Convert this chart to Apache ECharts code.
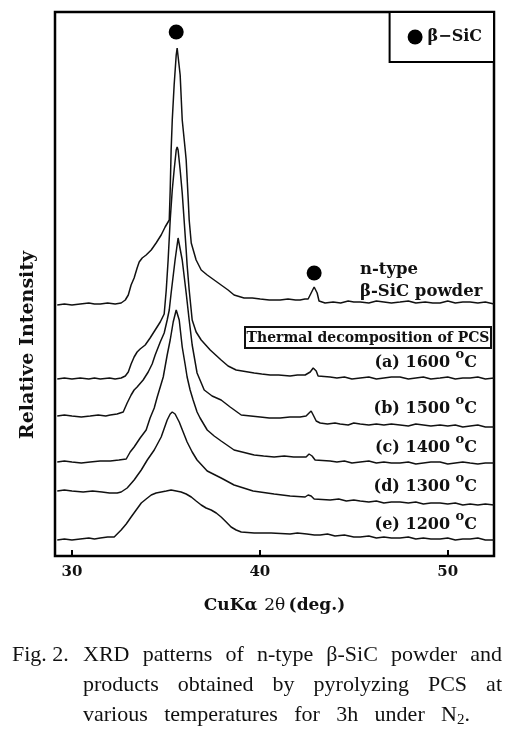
<!DOCTYPE html>
<html>
<head>
<meta charset="utf-8">
<script src="https://cdn.jsdelivr.net/npm/echarts@6/dist/echarts.min.js"></script>
<style>
html,body{margin:0;padding:0;background:#fff;}
#chart{width:526px;height:733px;}
</style>
</head>
<body>
<div id="chart"></div>
<script>
// ---- data (2θ in degrees, intensity in arbitrary units, curves offset as in the figure) ----
const tickValues = [30, 40, 50];
const markerName = 'β−SiC';
const markerPoints = [[35.55, 524], [42.89, 283]];
const seriesNames = ['n-type β-SiC powder', '(a) 1600 °C', '(b) 1500 °C', '(c) 1400 °C', '(d) 1300 °C', '(e) 1200 °C'];
const conditionLabels = ['(a) 1600 ', '(b) 1500 ', '(c) 1400 ', '(d) 1300 ', '(e) 1200 '];

const powder = [[29.22,251],[29.6,252],[30.0,251],[30.44,252],[30.9,253],[31.2,252],[31.51,252],[31.9,253],[32.3,252],[32.62,253],
 [32.84,256],[33.00,261],[33.15,271],[33.31,278],[33.47,288],[33.58,294],[33.74,298],[33.95,301],[34.22,306],[34.48,313],
 [34.75,321],[34.96,329],[35.18,336],[35.23,366],[35.28,406],[35.34,436],[35.44,471],[35.55,501],[35.60,508],[35.65,506],
 [35.76,481],[35.87,436],[36.03,406],[36.08,396],[36.19,356],[36.24,336],[36.35,313],[36.61,296],[36.88,286],[37.20,281],
 [37.57,276],[37.94,271],[38.31,266],[38.63,261],[39.16,258],[39.6,258],[40.02,257],[40.5,256],[41.08,256],[41.5,257],
 [41.9,256],[42.14,256],[42.4,257],[42.57,257],[42.73,263],[42.89,269],[43.05,263],[43.15,255],[43.47,253],[43.9,254],
 [44.3,253],[44.7,255],[45.0,254],[45.34,254],[45.8,253],[46.2,255],[46.6,254],[47.0,253],[47.46,254],[47.9,255],
 [48.3,253],[48.8,254],[49.2,253],[49.59,253],[50.0,255],[50.4,253],[50.8,254],[51.19,254],[51.6,253],[52.0,254],[52.46,252]];

const pcs1600 = [[29.22,177],[29.6,178],[30.0,177],[30.44,178],[30.9,177],[31.2,178],[31.51,177],[32.0,178],[32.3,177],[32.62,178],
 [32.84,180],[33.00,184],[33.15,192],[33.31,199],[33.47,204],[33.63,207],[33.90,211],[34.16,218],[34.43,226],[34.70,234],
 [34.91,242],[35.02,266],[35.12,296],[35.23,336],[35.34,366],[35.44,386],[35.55,406],[35.60,409],[35.65,406],[35.76,386],
 [35.87,363],[35.97,336],[36.08,306],[36.13,291],[36.24,266],[36.40,236],[36.61,224],[36.88,216],[37.36,206],[37.94,196],
 [38.31,190],[38.74,186],[39.70,183],[40.1,182],[40.55,181],[41.0,181],[41.61,180],[42.0,181],[42.41,181],[42.68,184],
 [42.84,188],[42.89,189],[43.00,185],[43.10,180],[43.74,179],[44.1,178],[44.5,179],[44.9,177],[45.34,178],[45.8,179],
 [46.2,177],[46.6,178],[47.0,179],[47.46,179],[47.9,177],[48.3,178],[48.7,179],[49.1,177],[49.59,178],[50.0,179],
 [50.4,177],[50.8,178],[51.19,178],[51.6,179],[52.0,177],[52.46,178]];

const pcs1500 = [[29.22,140],[29.6,141],[30.0,140],[30.5,139],[30.97,140],[31.4,141],[31.8,140],[32.04,141],[32.4,142],[32.73,144],
 [32.94,153],[33.15,161],[33.31,166],[33.47,169],[33.79,176],[34.06,184],[34.27,192],[34.43,201],[34.70,214],[34.91,223],
 [35.07,236],[35.18,246],[35.28,263],[35.49,296],[35.65,318],[35.87,296],[36.08,263],[36.24,236],[36.40,211],[36.66,183],
 [37.04,166],[37.46,160],[37.94,156],[38.42,149],[39.01,141],[40.02,139],[40.5,138],[41.08,138],[41.6,139],[42.14,139],
 [42.46,140],[42.62,143],[42.73,145],[42.84,141],[43.00,135],[43.21,133],[43.6,132],[44.0,133],[44.27,132],[44.7,131],
 [45.0,133],[45.34,132],[45.8,131],[46.2,132],[46.6,131],[47.0,132],[47.46,131],[47.9,130],[48.3,132],[48.7,131],
 [49.1,130],[49.59,131],[50.0,130],[50.4,131],[50.8,129],[51.19,130],[51.6,131],[52.0,129],[52.46,129]];

const pcs1400 = [[29.22,94],[29.6,95],[30.0,94],[30.5,93],[30.97,94],[31.5,95],[32.04,95],[32.5,96],[32.89,97],
 [33.10,104],[33.31,109],[33.63,118],[33.95,126],[34.16,138],[34.38,148],[34.54,159],[34.86,179],[35.07,201],[35.23,216],
 [35.39,234],[35.55,246],[35.60,245],[35.71,236],[35.87,209],[36.03,191],[36.13,179],[36.29,166],[36.45,156],[36.66,144],
 [36.82,138],[37.20,126],[37.57,120],[37.94,115],[38.63,106],[39.70,101],[40.2,100],[40.76,99],[41.3,100],[41.8,99],
 [42.14,99],[42.46,99],[42.62,102],[42.68,103],[42.78,100],[42.94,96],[43.74,95],[44.1,94],[44.5,95],[44.9,93],
 [45.34,94],[45.8,95],[46.2,93],[46.6,94],[47.0,93],[47.46,93],[47.9,94],[48.3,92],[48.7,93],[49.1,94],[49.59,94],
 [50.0,92],[50.4,93],[50.8,94],[51.19,93],[51.6,92],[52.0,93],[52.46,93]];

const pcs1300 = [[29.22,65],[29.6,66],[30.0,65],[30.60,64],[31.1,65],[31.6,64],[32.0,63],[32.41,63],[32.62,64],
 [32.94,68],[33.31,76],[33.69,86],[34.01,96],[34.38,106],[34.75,119],[35.07,136],[35.23,142],[35.34,144],[35.49,142],
 [35.71,134],[35.92,124],[36.13,114],[36.40,104],[36.66,96],[37.20,85],[37.94,78],[38.63,71],[39.64,65],[40.76,62],
 [41.61,60],[42.41,59],[42.57,61],[42.62,62],[42.73,60],[42.89,57],[43.74,56],[44.2,57],[44.6,55],[45.0,56],[45.34,55],
 [45.8,54],[46.2,55],[46.6,53],[47.0,54],[47.46,54],[47.9,53],[48.3,54],[48.7,52],[49.1,53],[49.59,53],[50.0,52],
 [50.4,53],[50.8,51],[51.19,52],[51.6,51],[52.0,52],[52.46,51]];

const pcs1200 = [[29.22,16],[29.6,17],[30.0,16],[30.44,17],[30.9,18],[31.2,17],[31.51,18],[31.9,19],[32.25,19],
 [32.62,26],[32.89,32],[33.15,39],[33.42,46],[33.69,53],[33.95,57],[34.22,61],[34.48,63],[34.75,64],[35.02,65],
 [35.28,66],[35.55,65],[35.81,64],[36.08,62],[36.35,59],[36.61,55],[36.88,51],[37.14,48],[37.41,46],[37.68,43],
 [37.94,39],[38.21,34],[38.47,29],[38.74,26],[39.01,24],[39.70,23],[40.60,23],[41.61,22],[42.0,23],[42.5,22],
 [42.9,21],[43.21,21],[43.6,22],[44.0,20],[44.5,21],[45.0,19],[45.34,19],[45.8,20],[46.2,18],[46.6,19],[47.0,18],
 [47.46,18],[47.9,19],[48.3,17],[48.7,18],[49.1,17],[49.59,17],[50.0,18],[50.4,16],[50.8,17],[51.19,17],[51.6,18],
 [52.0,16],[52.46,16]];

const curves = [powder, pcs1600, pcs1500, pcs1400, pcs1300, pcs1200];

// ---- layout / style ----
const SERIF_B = '"DejaVu Serif", serif';
const CAP_FONT = '22px "Liberation Serif", "Times New Roman", serif';
const INK = '#111';

const chart = echarts.init(document.getElementById('chart'), null, {renderer: 'canvas'});

const mctx = document.createElement('canvas').getContext('2d');
function textW(font, s) { mctx.font = font; return mctx.measureText(s).width; }

function justifyLine(words, x0, x1, y) {
  const els = [];
  const widths = words.map(w => {
    if (w === 'N2.') return textW(CAP_FONT, 'N') + textW('15px "Liberation Serif"', '2') + textW(CAP_FONT, '.');
    return textW(CAP_FONT, w);
  });
  const total = widths.reduce((a, b) => a + b, 0);
  const gap = words.length > 1 ? (x1 - x0 - total) / (words.length - 1) : 0;
  let x = x0;
  words.forEach((w, i) => {
    if (w === 'N2.') {
      els.push({type: 'text', x: x, y: y, style: {
        text: '{n|N}{s|2}{n|.}', textAlign: 'left', textVerticalAlign: 'middle', fill: INK,
        rich: {
          n: {fontSize: 22, fontFamily: '"Liberation Serif", serif', lineHeight: 26, verticalAlign: 'middle', fill: INK},
          s: {fontSize: 15, fontFamily: '"Liberation Serif", serif', lineHeight: 15, verticalAlign: 'bottom', fill: INK}
        }
      }});
    } else {
      els.push({type: 'text', x: x, y: y, style: {text: w, font: CAP_FONT, fill: INK, textAlign: 'left', textVerticalAlign: 'middle'}});
    }
    x += widths[i] + gap;
  });
  return els;
}

const graphics = [];
// y-axis title
graphics.push({type: 'text', x: 28, y: 345, rotation: Math.PI / 2, style: {
  text: 'Relative Intensity', font: 'bold 19px ' + SERIF_B, fill: INK, textAlign: 'center', textVerticalAlign: 'middle'}});
// sample annotations
graphics.push({type: 'text', x: 360, y: 270, style: {text: 'n-type', font: 'bold 16.5px ' + SERIF_B, fill: INK, textAlign: 'left', textVerticalAlign: 'middle'}});
graphics.push({type: 'text', x: 360, y: 292, style: {text: 'β-SiC powder', font: 'bold 16.5px ' + SERIF_B, fill: INK, textAlign: 'left', textVerticalAlign: 'middle'}});
graphics.push({type: 'rect', shape: {x: 245, y: 327, width: 246, height: 21}, style: {fill: '#fff', stroke: INK, lineWidth: 2}});
graphics.push({type: 'text', x: 368, y: 338, style: {text: 'Thermal decomposition of PCS', font: 'bold 14px ' + SERIF_B, fill: INK, textAlign: 'center', textVerticalAlign: 'middle'}});
const labelY = [363, 409, 448, 487, 525];
conditionLabels.forEach((lab, i) => {
  graphics.push({type: 'text', x: 477, y: labelY[i], style: {
    text: '{t|' + lab + '}{s|o}{t|C}', textAlign: 'right', textVerticalAlign: 'middle', fill: INK,
    rich: {
      t: {fontSize: 16, fontWeight: 'bold', fontFamily: SERIF_B, lineHeight: 30, verticalAlign: 'middle', fill: INK},
      s: {fontSize: 13, fontWeight: 'bold', fontFamily: SERIF_B, lineHeight: 13, verticalAlign: 'top', fill: INK}
    }
  }});
});
// caption
graphics.push({type: 'text', x: 12, y: 655, style: {text: 'Fig. 2.', font: CAP_FONT, fill: INK, textAlign: 'left', textVerticalAlign: 'middle'}});
justifyLine('XRD patterns of n-type β-SiC powder and'.split(' '), 83, 502, 655).forEach(e => graphics.push(e));
justifyLine('products obtained by pyrolyzing PCS at'.split(' '), 83, 502, 685).forEach(e => graphics.push(e));
justifyLine('various temperatures for 3h under N2.'.split(' '), 83, 470, 715).forEach(e => graphics.push(e));

const series = curves.map((c, i) => ({
  name: seriesNames[i], type: 'line', data: c, showSymbol: false, symbol: 'none', smooth: false,
  lineStyle: {color: INK, width: 1.5}, silent: true, z: 2
}));
series.push({
  name: markerName, type: 'scatter', data: markerPoints, symbol: 'circle', symbolSize: 15,
  itemStyle: {color: '#000', opacity: 1}, z: 3, silent: true
});

chart.setOption({
  animation: false,
  backgroundColor: '#fff',
  grid: {left: 55, right: 32, top: 12, bottom: 177, show: true, borderColor: '#000', borderWidth: 2.5, backgroundColor: 'transparent'},
  legend: {
    data: [{name: markerName, icon: 'circle', itemStyle: {color: '#000', opacity: 1}}], right: 32, top: 12, selectedMode: false,
    itemWidth: 15, itemHeight: 15, itemGap: 5,
    padding: [17, 12, 17, 18], borderColor: '#000', borderWidth: 2, backgroundColor: '#fff',
    textStyle: {fontFamily: SERIF_B, fontWeight: 'bold', fontSize: 16, color: INK, padding: [0, 0, 0, 0]}
  },
  xAxis: {
    type: 'value', min: 29.1, max: 52.46,
    name: '{b|CuKα}  {r|2θ} {b|(deg.)}', nameLocation: 'middle', nameGap: 41,
    nameTextStyle: {rich: {
      b: {fontFamily: SERIF_B, fontWeight: 'bold', fontSize: 17, color: INK},
      r: {fontFamily: SERIF_B, fontWeight: 'normal', fontSize: 17, color: INK}
    }},
    axisLine: {show: false},
    axisTick: {show: true, inside: true, length: 6, customValues: tickValues, lineStyle: {color: '#000', width: 2}},
    axisLabel: {customValues: tickValues, margin: 9, fontFamily: SERIF_B, fontWeight: 'bold', fontSize: 15, color: INK},
    splitLine: {show: false}
  },
  yAxis: {type: 'value', min: 0, max: 544, show: false, splitLine: {show: false}},
  series: series,
  graphic: graphics
});
</script>
</body>
</html>
